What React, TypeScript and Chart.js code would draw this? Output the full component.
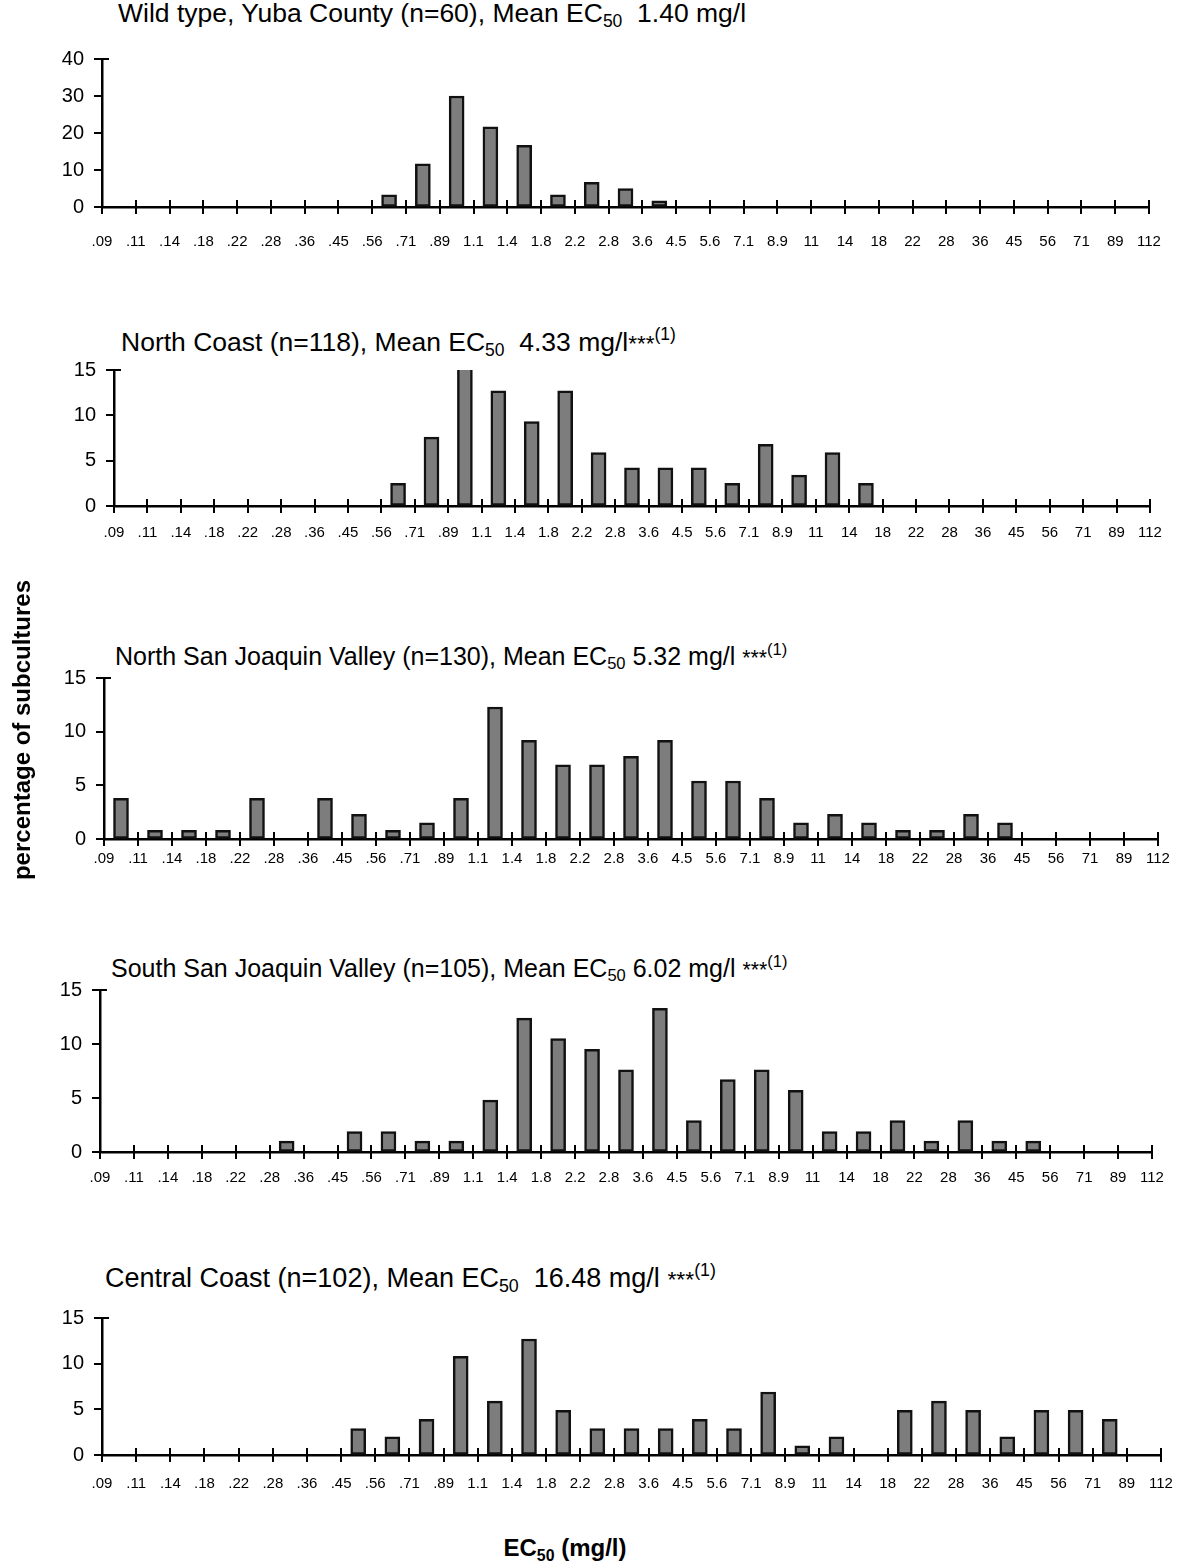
import React, { useEffect, useRef } from "react";
import { Chart, registerables } from "chart.js";

Chart.register(...registerables);

// ---------- DATA ----------
const binEdgeLabels = [
  ".09", ".11", ".14", ".18", ".22", ".28", ".36", ".45", ".56", ".71", ".89",
  "1.1", "1.4", "1.8", "2.2", "2.8", "3.6", "4.5", "5.6", "7.1", "8.9",
  "11", "14", "18", "22", "28", "36", "45", "56", "71", "89", "112",
];

// percentage of subcultures per EC50 bin (31 bins between the 32 edges)
const yubaCounty = [0, 0, 0, 0, 0, 0, 0, 0, 3.3, 11.7, 30, 21.7, 16.7, 3.3, 6.7, 5.0, 1.7, 0, 0, 0, 0, 0, 0, 0, 0, 0, 0, 0, 0, 0, 0];
const northCoast = [0, 0, 0, 0, 0, 0, 0, 0, 2.5, 7.6, 15.3, 12.7, 9.3, 12.7, 5.9, 4.2, 4.2, 4.2, 2.5, 6.8, 3.4, 5.9, 2.5, 0, 0, 0, 0, 0, 0, 0, 0];
const northSanJoaquin = [3.8, 0.8, 0.8, 0.8, 3.8, 0, 3.8, 2.3, 0.8, 1.5, 3.8, 12.3, 9.2, 6.9, 6.9, 7.7, 9.2, 5.4, 5.4, 3.8, 1.5, 2.3, 1.5, 0.8, 0.8, 2.3, 1.5, 0, 0, 0, 0];
const southSanJoaquin = [0, 0, 0, 0, 0, 1.0, 0, 1.9, 1.9, 1.0, 1.0, 4.8, 12.4, 10.5, 9.5, 7.6, 13.3, 2.9, 6.7, 7.6, 5.7, 1.9, 1.9, 2.9, 1.0, 2.9, 1.0, 1.0, 0, 0, 0];
const centralCoast = [0, 0, 0, 0, 0, 0, 0, 2.9, 2.0, 3.9, 10.8, 5.9, 12.7, 4.9, 2.9, 2.9, 2.9, 3.9, 2.9, 6.9, 1.0, 2.0, 0, 4.9, 5.9, 4.9, 2.0, 4.9, 4.9, 3.9, 0];

const yTicksYuba = [0, 10, 20, 30, 40];
const yTicksRegion = [0, 5, 10, 15];

const titleLeads = [
  "Wild type, Yuba County (n=60), Mean EC",
  "North Coast (n=118), Mean EC",
  "North San Joaquin Valley (n=130), Mean EC",
  "South San Joaquin Valley (n=105), Mean EC",
  "Central Coast (n=102), Mean EC",
];
const titleMeans = ["\u00a0 1.40 mg/l", "\u00a0 4.33 mg/l", " 5.32 mg/l\u00a0", " 6.02 mg/l\u00a0", "\u00a0 16.48 mg/l\u00a0"];
const titleStars = ["", "***", "***", "***", "***"];
const titleNotes = ["", "(1)", "(1)", "(1)", "(1)"];

const yAxisTitle = "percentage of subcultures";

// ---------- LAYOUT ----------
const FONT = '"Liberation Sans", Arial, Helvetica, sans-serif';
const PAGE_W = 1186;
const Y_W = 80;
const X_H = 45;
const PAD_TOP = 15;

const panels = [
  { values: yubaCounty, yTicks: yTicksYuba, left: 102, right: 1149, top: 59, bottom: 207, labelPad: 20, titleX: 118, titleY: 13, titleSize: 26.5 },
  { values: northCoast, yTicks: yTicksRegion, left: 114, right: 1150, top: 370, bottom: 506, labelPad: 12, titleX: 121, titleY: 342, titleSize: 26.5 },
  { values: northSanJoaquin, yTicks: yTicksRegion, left: 104, right: 1158, top: 678, bottom: 839, labelPad: 5, titleX: 115, titleY: 656, titleSize: 25 },
  { values: southSanJoaquin, yTicks: yTicksRegion, left: 100, right: 1152, top: 990, bottom: 1152, labelPad: 11, titleX: 111, titleY: 968, titleSize: 25 },
  { values: centralCoast, yTicks: yTicksRegion, left: 102, right: 1161, top: 1318, bottom: 1455, labelPad: 14, titleX: 105, titleY: 1278, titleSize: 27 },
];

const crossTicks = {
  id: "crossTicks",
  afterDraw(chart: any) {
    const { ctx, chartArea, scales } = chart;
    const x = scales.x;
    const y = scales.y;
    ctx.save();
    ctx.strokeStyle = "#000";
    ctx.lineWidth = 2;
    ctx.beginPath();
    x.ticks.forEach((t: any) => {
      const px = Math.round(x.getPixelForValue(t.value));
      ctx.moveTo(px, chartArea.bottom - 7);
      ctx.lineTo(px, chartArea.bottom + 7);
    });
    const n = y.ticks.length;
    y.ticks.forEach((t: any, i: number) => {
      const py = Math.round(y.getPixelForValue(t.value));
      ctx.moveTo(chartArea.left - 8, py);
      ctx.lineTo(chartArea.left + (i === n - 1 ? 7 : 1), py);
    });
    ctx.stroke();
    ctx.restore();
  },
};

function Panel({ cfg }: { cfg: any }) {
  const ref = useRef<HTMLCanvasElement>(null);
  const h = cfg.bottom - cfg.top + PAD_TOP + X_H;
  const canvasTop = cfg.top - PAD_TOP;

  useEffect(() => {
    const canvas = ref.current!;
    const yMax = cfg.yTicks[cfg.yTicks.length - 1];
    const chart = new Chart(canvas, {
      type: "bar",
      data: {
        datasets: [
          {
            data: cfg.values.map((v: number, i: number) => ({ x: i + 0.5, y: v > 0 ? v : null })),
            backgroundColor: "#7d7d7d",
            borderColor: "#111",
            borderWidth: 2.5,
            borderSkipped: false,
            barThickness: 15,
          } as any,
        ],
      },
      options: {
        animation: false,
        responsive: false,
        maintainAspectRatio: false,
        events: [],
        layout: {
          padding: { left: cfg.left - Y_W, right: PAGE_W - cfg.right, top: PAD_TOP, bottom: 0 },
        },
        plugins: { legend: { display: false }, tooltip: { enabled: false }, title: { display: false } },
        scales: {
          x: {
            type: "linear",
            min: 0,
            max: binEdgeLabels.length - 1,
            offset: false,
            afterBuildTicks: (s: any) => {
              s.ticks = binEdgeLabels.map((_, i) => ({ value: i }));
            },
            afterFit: (s: any) => {
              s.height = X_H;
              s.paddingLeft = 0;
              s.paddingRight = 0;
            },
            ticks: {
              autoSkip: false,
              maxRotation: 0,
              minRotation: 0,
              padding: cfg.labelPad,
              color: "#000",
              font: { family: FONT, size: 15 },
              callback: (v: any) => binEdgeLabels[Math.round(Number(v))] ?? "",
            },
            grid: { display: true, offset: false, drawOnChartArea: false, drawTicks: true, tickLength: 6, color: "rgba(0,0,0,0)" },
            border: { display: true, color: "#000", width: 2.5 },
          },
          y: {
            type: "linear",
            min: 0,
            max: yMax,
            afterBuildTicks: (s: any) => {
              s.ticks = cfg.yTicks.map((v: number) => ({ value: v }));
            },
            afterFit: (s: any) => {
              s.width = Y_W;
              s.paddingTop = 0;
              s.paddingBottom = 0;
            },
            ticks: {
              padding: 10,
              color: "#000",
              font: { family: FONT, size: 20 },
            },
            grid: { display: true, drawOnChartArea: false, drawTicks: true, tickLength: 8, color: "rgba(0,0,0,0)" },
            border: { display: true, color: "#000", width: 2.5 },
          },
        },
      } as any,
      plugins: [crossTicks],
    });
    return () => chart.destroy();
  }, []);

  return (
    <canvas
      ref={ref}
      width={PAGE_W}
      height={h}
      style={{ position: "absolute", left: 0, top: canvasTop, width: PAGE_W, height: h }}
    />
  );
}

function Title({ i, cfg }: { i: number; cfg: any }) {
  const fs = cfg.titleSize;
  return (
    <div
      style={{
        position: "absolute",
        left: cfg.titleX,
        top: cfg.titleY - fs / 2,
        font: `${fs}px ${FONT}`,
        lineHeight: `${fs}px`,
        whiteSpace: "nowrap",
        color: "#000",
      }}
    >
      {titleLeads[i]}
      <span style={{ fontSize: "0.66em", position: "relative", top: "0.3em" }}>50</span>
      {titleMeans[i]}
      <span style={{ fontSize: "0.85em" }}>{titleStars[i]}</span>
      <span style={{ fontSize: "0.66em", position: "relative", top: "-0.6em" }}>{titleNotes[i]}</span>
    </div>
  );
}

export default function App() {
  return (
    <div
      style={{
        position: "absolute",
        left: 0,
        top: 0,
        width: PAGE_W,
        height: 1564,
        background: "#fff",
        overflow: "hidden",
        fontFamily: FONT,
      }}
    >
      {panels.map((p, i) => (
        <React.Fragment key={i}>
          <Title i={i} cfg={p} />
          <Panel cfg={p} />
        </React.Fragment>
      ))}
      <div
        style={{
          position: "absolute",
          left: 22 - 200,
          top: 730 - 14,
          width: 400,
          height: 28,
          lineHeight: "28px",
          textAlign: "center",
          font: `bold 24px ${FONT}`,
          transform: "rotate(-90deg)",
          transformOrigin: "center center",
          whiteSpace: "nowrap",
        }}
      >
        {yAxisTitle}
      </div>
      <div
        style={{
          position: "absolute",
          left: 565 - 150,
          top: 1548 - 14,
          width: 300,
          lineHeight: "28px",
          textAlign: "center",
          font: `bold 24px ${FONT}`,
          whiteSpace: "nowrap",
        }}
      >
        EC<span style={{ fontSize: "0.66em", position: "relative", top: "0.3em" }}>50</span> (mg/l)
      </div>
    </div>
  );
}
